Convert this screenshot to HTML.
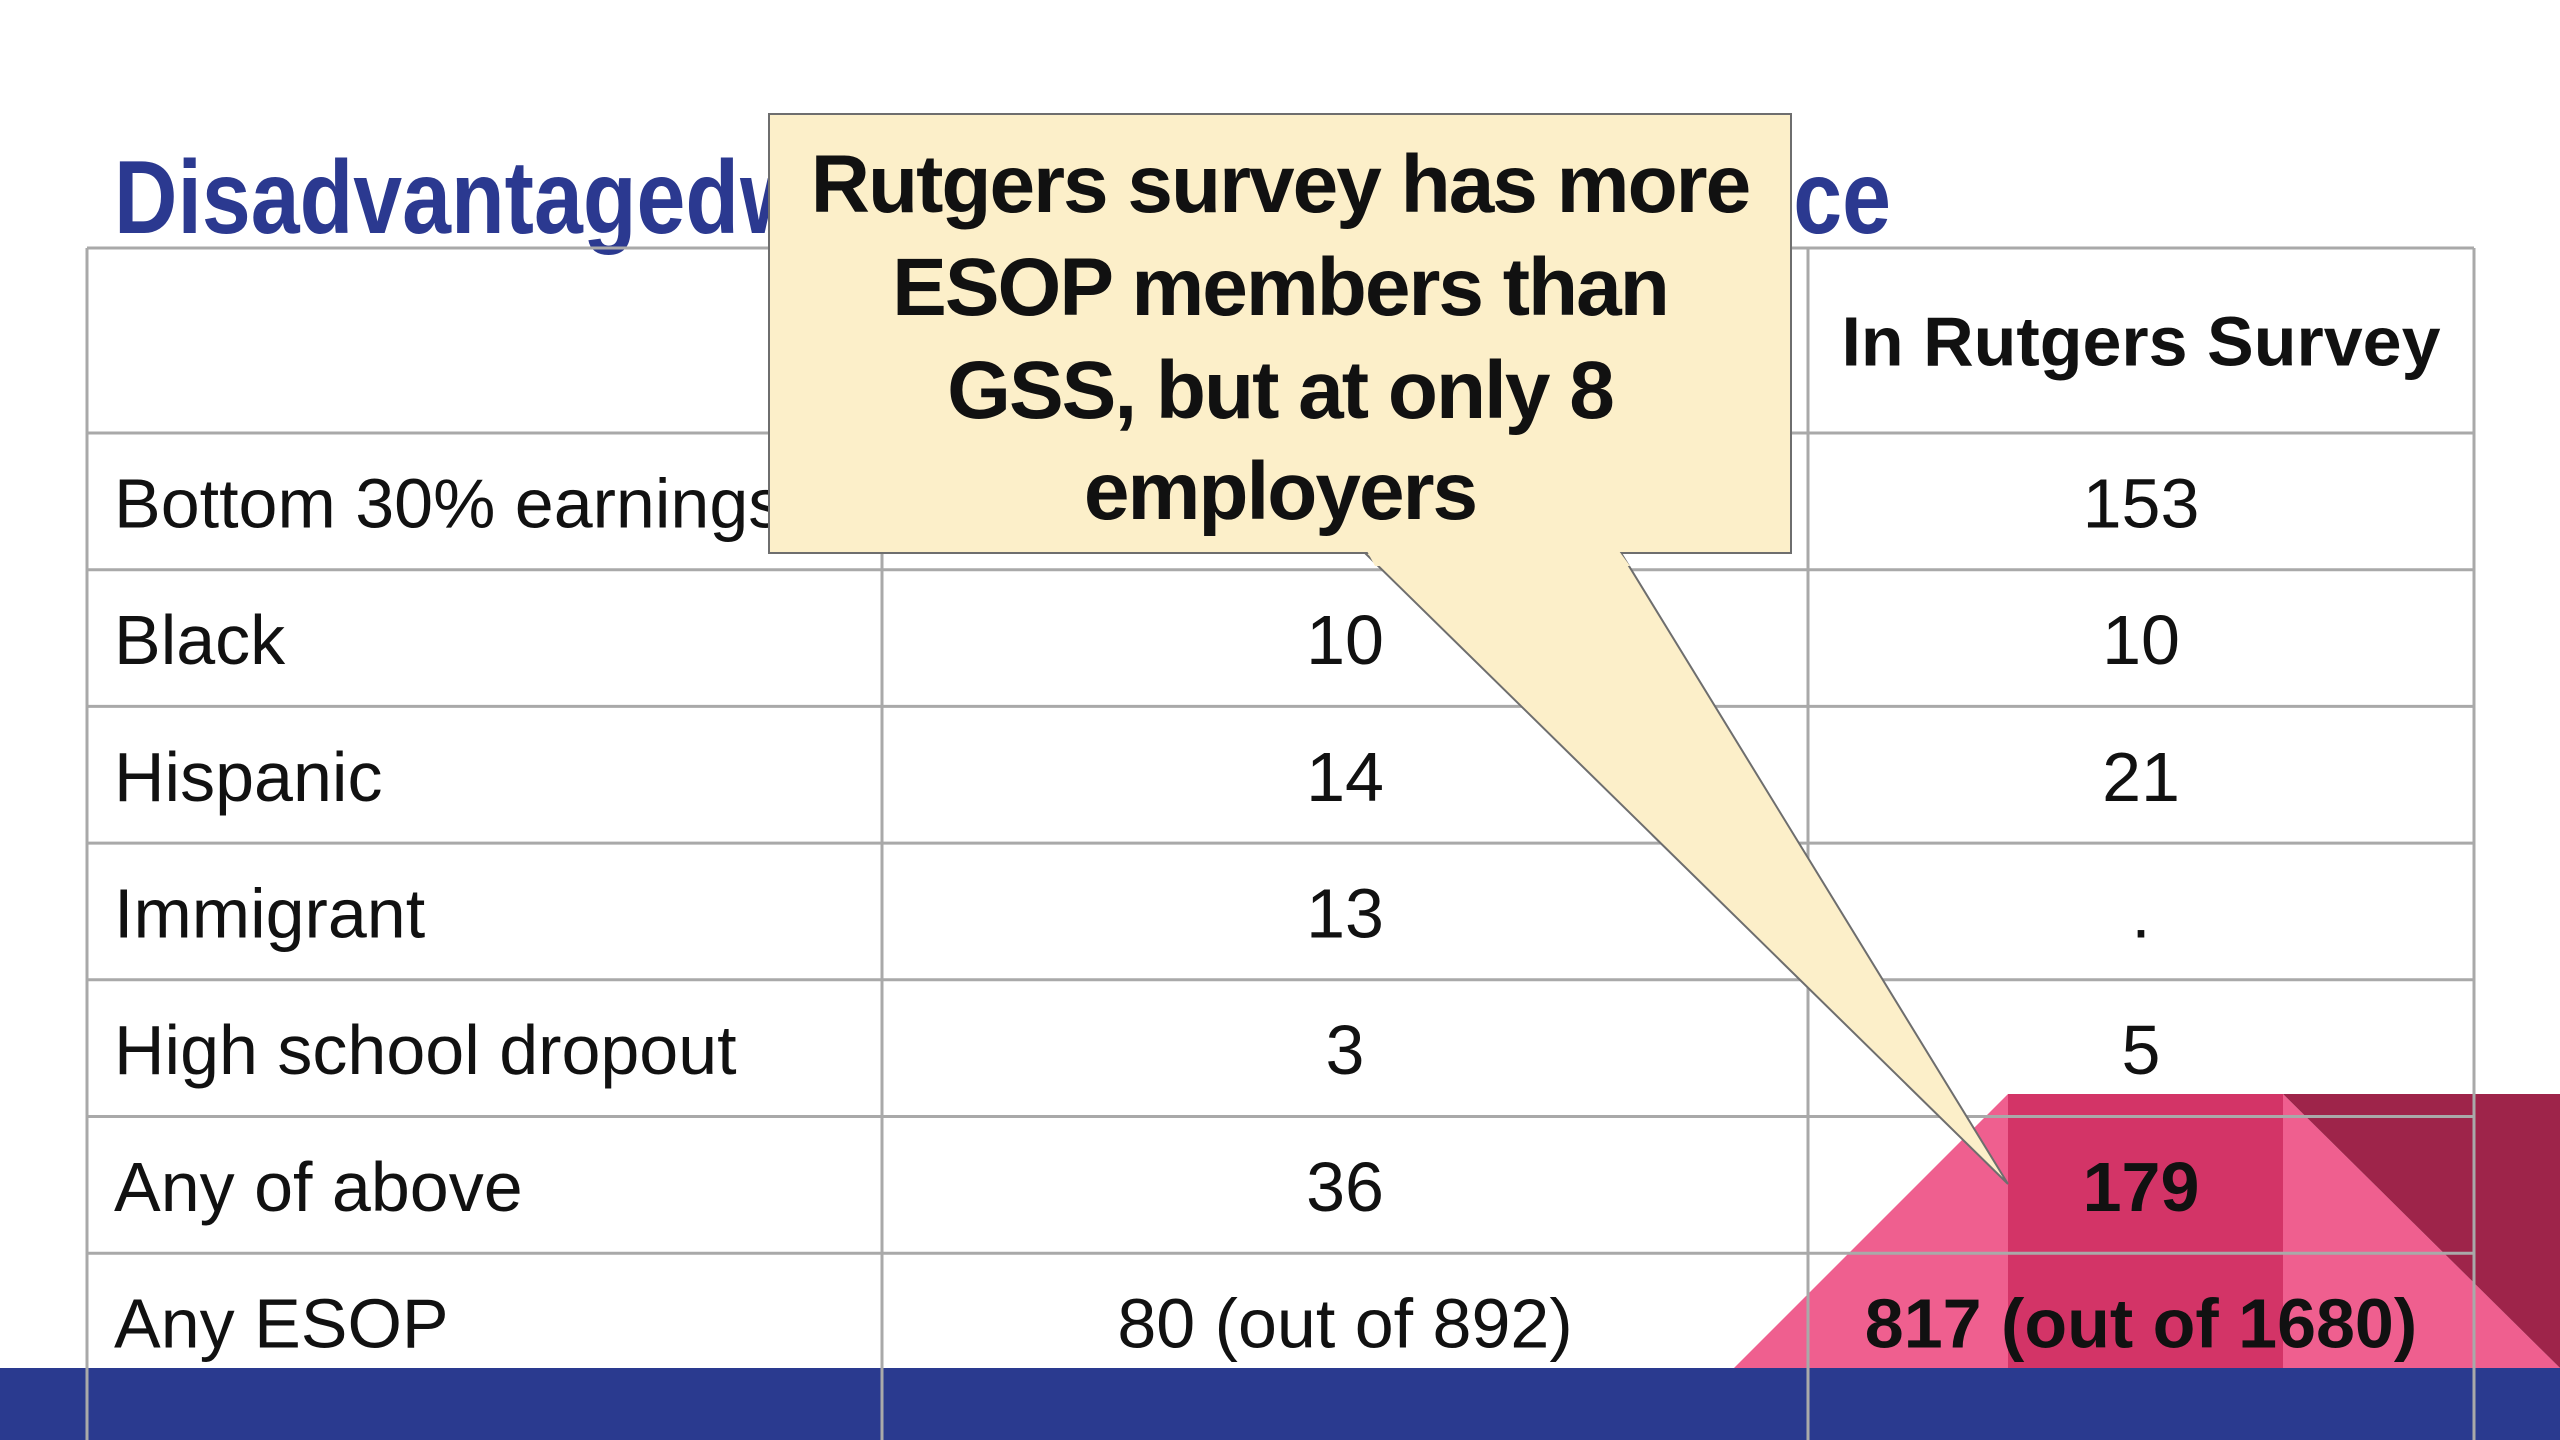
<!DOCTYPE html>
<html>
<head>
<meta charset="utf-8">
<style>
  html,body{margin:0;padding:0;background:#fff;}
  svg{display:block;}
  text{font-family:"Liberation Sans",Arial,sans-serif;}
</style>
</head>
<body>
<svg id="slide" width="2560" height="1440" viewBox="0 0 2560 1440" xmlns="http://www.w3.org/2000/svg">
  <!-- decorative pink shapes -->
  <g>
    <polygon points="1734,1368 2008,1094 2283,1094 2560,1368" fill="#ef5f8f"/>
    <rect x="2008" y="1094" width="275" height="274" fill="#d33467"/>
    <polygon points="2283,1094 2560,1094 2560,1368" fill="#9e244a"/>
  </g>
  <rect x="0" y="1368" width="2560" height="72" fill="#2a3a8f"/>

  <!-- title -->
  <text x="114" y="233" font-size="104" font-weight="bold" fill="#2b3990" transform="translate(114 0) scale(0.845 1) translate(-114 0)">Disadvantaged</text>
  <text x="1891" y="233" font-size="104" font-weight="bold" fill="#2b3990" text-anchor="end" transform="translate(1891 0) scale(0.845 1) translate(-1891 0)">workers in ESOP workforce</text>

  <g id="table"></g>

  <!-- callout -->
  <g>
    <polygon points="1365,553 2008,1184 1621,553" fill="#fcefc9" stroke="#6e6e6e" stroke-width="2"/>
    <rect x="769" y="114" width="1022" height="439" fill="#fcefc9" stroke="#6e6e6e" stroke-width="2"/>
    <polygon points="1367,551 1619,551 1630,566 1375,566" fill="#fcefc9" stroke="none"/>
    <g font-size="82" font-weight="bold" fill="#111" text-anchor="middle" letter-spacing="-2">
      <text x="1280" y="212">Rutgers survey has more</text>
      <text x="1280" y="315">ESOP members than</text>
      <text x="1280" y="418">GSS, but at only 8</text>
      <text x="1280" y="519">employers</text>
    </g>
  </g>
</svg>
<script>
const rowLabels = ["Bottom 30% earnings","Black","Hispanic","Immigrant","High school dropout","Any of above","Any ESOP"];
const gssValues = ["","10","14","13","3","36","80 (out of 892)"];
const rutgersValues = ["153","10","21",".","5","179","817 (out of 1680)"];
const headers = ["","In GSS","In Rutgers Survey"];

const NS = "http://www.w3.org/2000/svg";
const g = document.getElementById("table");
const colX = [87, 882, 1808, 2474];
const headTop = 248, headBottom = 433, rowH = 136.7;
const nRows = rowLabels.length;
function mk(tag, attrs){const e=document.createElementNS(NS,tag);for(const k in attrs)e.setAttribute(k,attrs[k]);return e;}

// grid lines
const bottomY = 1440;
for (let i=0;i<colX.length;i++){
  const l = mk("line",{x1:colX[i],x2:colX[i],y1:headTop,y2:bottomY,stroke:"#a9a9a9","stroke-width":3});
  
  
  g.appendChild(l);
}
const hYs=[headTop, headBottom];
for (let r=1;r<=nRows;r++) hYs.push(headBottom + r*rowH);
hYs.forEach(y=>{
  if (y>1368) return;
  const l = mk("line",{x1:colX[0],x2:colX[3],y1:y,y2:y,stroke:"#a9a9a9","stroke-width":3});
  
  
  g.appendChild(l);
});

// headers
headers.forEach((h,i)=>{
  if(!h) return;
  const t = mk("text",{x:(colX[i]+colX[i+1])/2,y:(headTop+headBottom)/2+25,"font-size":70,"font-weight":"bold",fill:"#111","text-anchor":"middle"});
  
  
  t.textContent = h;
  g.appendChild(t);
});

// rows
for (let r=0;r<nRows;r++){
  const y = headBottom + r*rowH + rowH/2 + 26;
  const lab = mk("text",{x:114,y:y,"font-size":70,fill:"#111"});
  
  
  lab.textContent = rowLabels[r];
  g.appendChild(lab);
  const v1 = mk("text",{x:(colX[1]+colX[2])/2,y:y,"font-size":70,fill:"#111","text-anchor":"middle"});
  
  
  v1.textContent = gssValues[r];
  g.appendChild(v1);
  const bold = r >= 5;
  const v2 = mk("text",{x:(colX[2]+colX[3])/2,y:y,"font-size":70,fill:"#111","text-anchor":"middle","font-weight":bold?"bold":"normal"});
  
  
  v2.textContent = rutgersValues[r];
  g.appendChild(v2);
}
</script>
</body>
</html>
